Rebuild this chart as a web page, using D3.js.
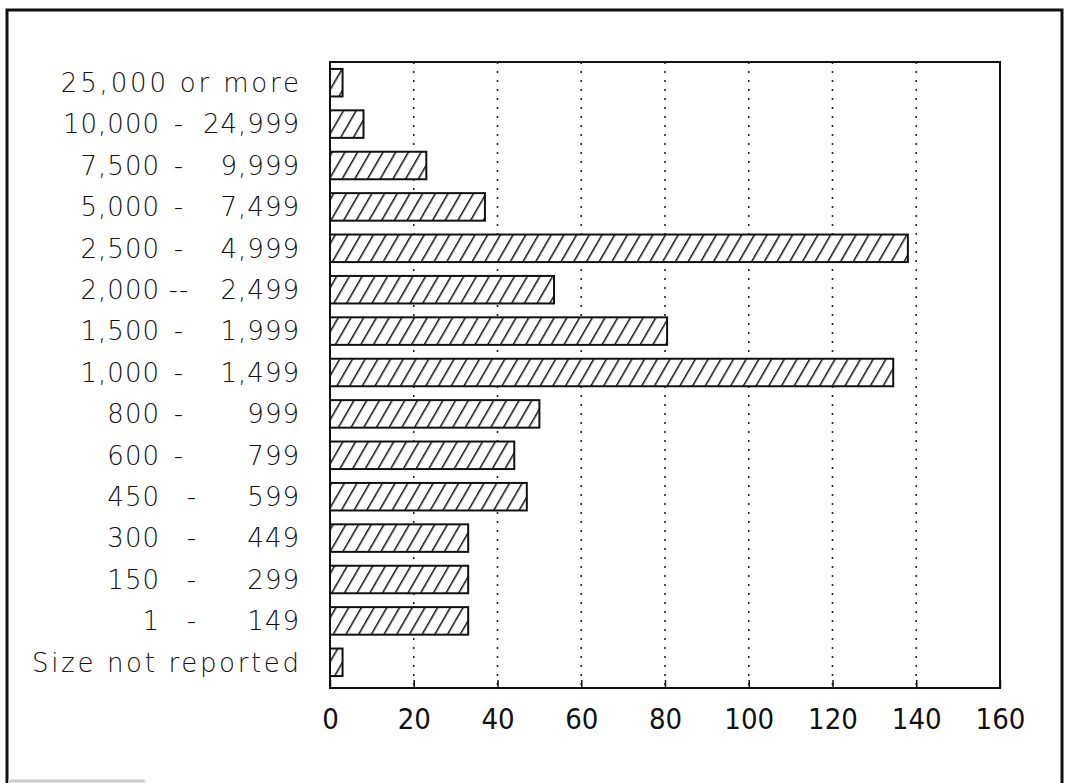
<!DOCTYPE html>
<html>
<head>
<meta charset="utf-8">
<script src="https://cdn.jsdelivr.net/npm/d3@7"></script>
<style>
  html, body { margin: 0; padding: 0; background: #fff; }
  svg { display: block; }
  .cat { font-family: "DejaVu Sans", sans-serif; font-weight: 300; font-size: 26px; fill: #111; letter-spacing: 1px; }
  .tick-label { font-family: "DejaVu Sans Condensed", "DejaVu Sans", sans-serif; font-stretch: condensed; font-weight: 300; font-size: 29px; fill: #111; }
</style>
</head>
<body>
<script>
// ---- data ----
const categories = [
  "25,000 or more",
  "10,000 - 24,999",
  "7,500 - 9,999",
  "5,000 - 7,499",
  "2,500 - 4,999",
  "2,000 -- 2,499",
  "1,500 - 1,999",
  "1,000 - 1,499",
  "800 - 999",
  "600 - 799",
  "450 - 599",
  "300 - 449",
  "150 - 299",
  "1 - 149",
  "Size not reported"
];
const values = [3, 8, 23, 37, 138, 53.5, 80.5, 134.5, 50, 44, 47, 33, 33, 33, 3];
const xTicks = [0, 20, 40, 60, 80, 100, 120, 140, 160];

// ---- layout ----
const W = 1067, H = 783;
const plot = { left: 330, right: 1000, top: 62, bottom: 688 };

const svg = d3.select("body").append("svg").attr("width", W).attr("height", H);

// hatch pattern
const defs = svg.append("defs");
const pat = defs.append("pattern")
  .attr("id", "hatch")
  .attr("patternUnits", "userSpaceOnUse")
  .attr("width", 11).attr("height", 11)
  .attr("patternTransform", "rotate(30)");
pat.append("rect").attr("width", 11).attr("height", 11).attr("fill", "#fff");
pat.append("line").attr("x1", 0).attr("y1", 0).attr("x2", 0).attr("y2", 11)
  .attr("stroke", "#111").attr("stroke-width", 3);

// outer frame
svg.append("path")
  .attr("d", `M7,783 V10 H1062 V783`)
  .attr("fill", "none").attr("stroke", "#111").attr("stroke-width", 3);
svg.append("line").attr("x1", 8).attr("x2", 145).attr("y1", 781).attr("y2", 781)
  .attr("stroke", "#ccc").attr("stroke-width", 3);

const x = d3.scaleLinear().domain([0, 160]).range([plot.left, plot.right]);
const y = d3.scaleBand().domain(categories).range([plot.top, 683])
  .paddingInner(0.335).paddingOuter(0.1675);

// dotted gridlines
svg.append("g").selectAll("line")
  .data(xTicks.filter(t => t > 0 && t < 160))
  .join("line")
  .attr("x1", d => x(d)).attr("x2", d => x(d))
  .attr("y1", plot.top).attr("y2", plot.bottom)
  .attr("stroke", "#222").attr("stroke-width", 1.6)
  .attr("stroke-dasharray", "2,7");

// bars
svg.append("g").selectAll("rect")
  .data(categories.map((c, i) => ({ c, v: values[i] })))
  .join("rect")
  .attr("x", x(0))
  .attr("y", d => y(d.c))
  .attr("width", d => x(d.v) - x(0))
  .attr("height", y.bandwidth())
  .attr("fill", "url(#hatch)")
  .attr("stroke", "#111").attr("stroke-width", 2);

// plot frame
svg.append("rect")
  .attr("x", plot.left).attr("y", plot.top)
  .attr("width", plot.right - plot.left).attr("height", plot.bottom - plot.top)
  .attr("fill", "none").attr("stroke", "#111").attr("stroke-width", 2);

// x axis
const xAxis = d3.axisBottom(x).tickValues(xTicks).tickSizeInner(-8).tickSizeOuter(0).tickPadding(26);
const gx = svg.append("g").attr("transform", `translate(0,${plot.bottom})`).call(xAxis);
gx.select(".domain").remove();
gx.selectAll(".tick line").attr("stroke", "#111").attr("stroke-width", 1.5);
gx.selectAll(".tick text").attr("class", "tick-label").attr("font-family", null).attr("font-size", null)
  .attr("fill", null).attr("dy", "0.5em");

// category labels
const lab = svg.append("g");
categories.forEach((c, i) => {
  const cy = y(c) + y.bandwidth() / 2;
  const m = c.match(/^(.*?)\s+(-+)\s+(.*)$/);
  if (m) {
    const dashX = i >= 10 ? 192 : 179;
    lab.append("text").attr("class", "cat").attr("x", 160).attr("y", cy).attr("dy", "0.36em")
      .attr("text-anchor", "end").text(m[1]);
    lab.append("text").attr("class", "cat").attr("x", dashX).attr("y", cy).attr("dy", "0.36em")
      .attr("text-anchor", "middle").text(m[2]);
    lab.append("text").attr("class", "cat").attr("x", 300).attr("y", cy).attr("dy", "0.36em")
      .attr("text-anchor", "end").text(m[3]);
  } else {
    const t = lab.append("text").attr("class", "cat").attr("y", cy).attr("dy", "0.36em").text(c);
    const wide = t.node().getComputedTextLength() * 1.11;
    t.attr("x", 300 - wide).attr("textLength", wide).attr("lengthAdjust", "spacing");
  }
});
</script>
</body>
</html>
